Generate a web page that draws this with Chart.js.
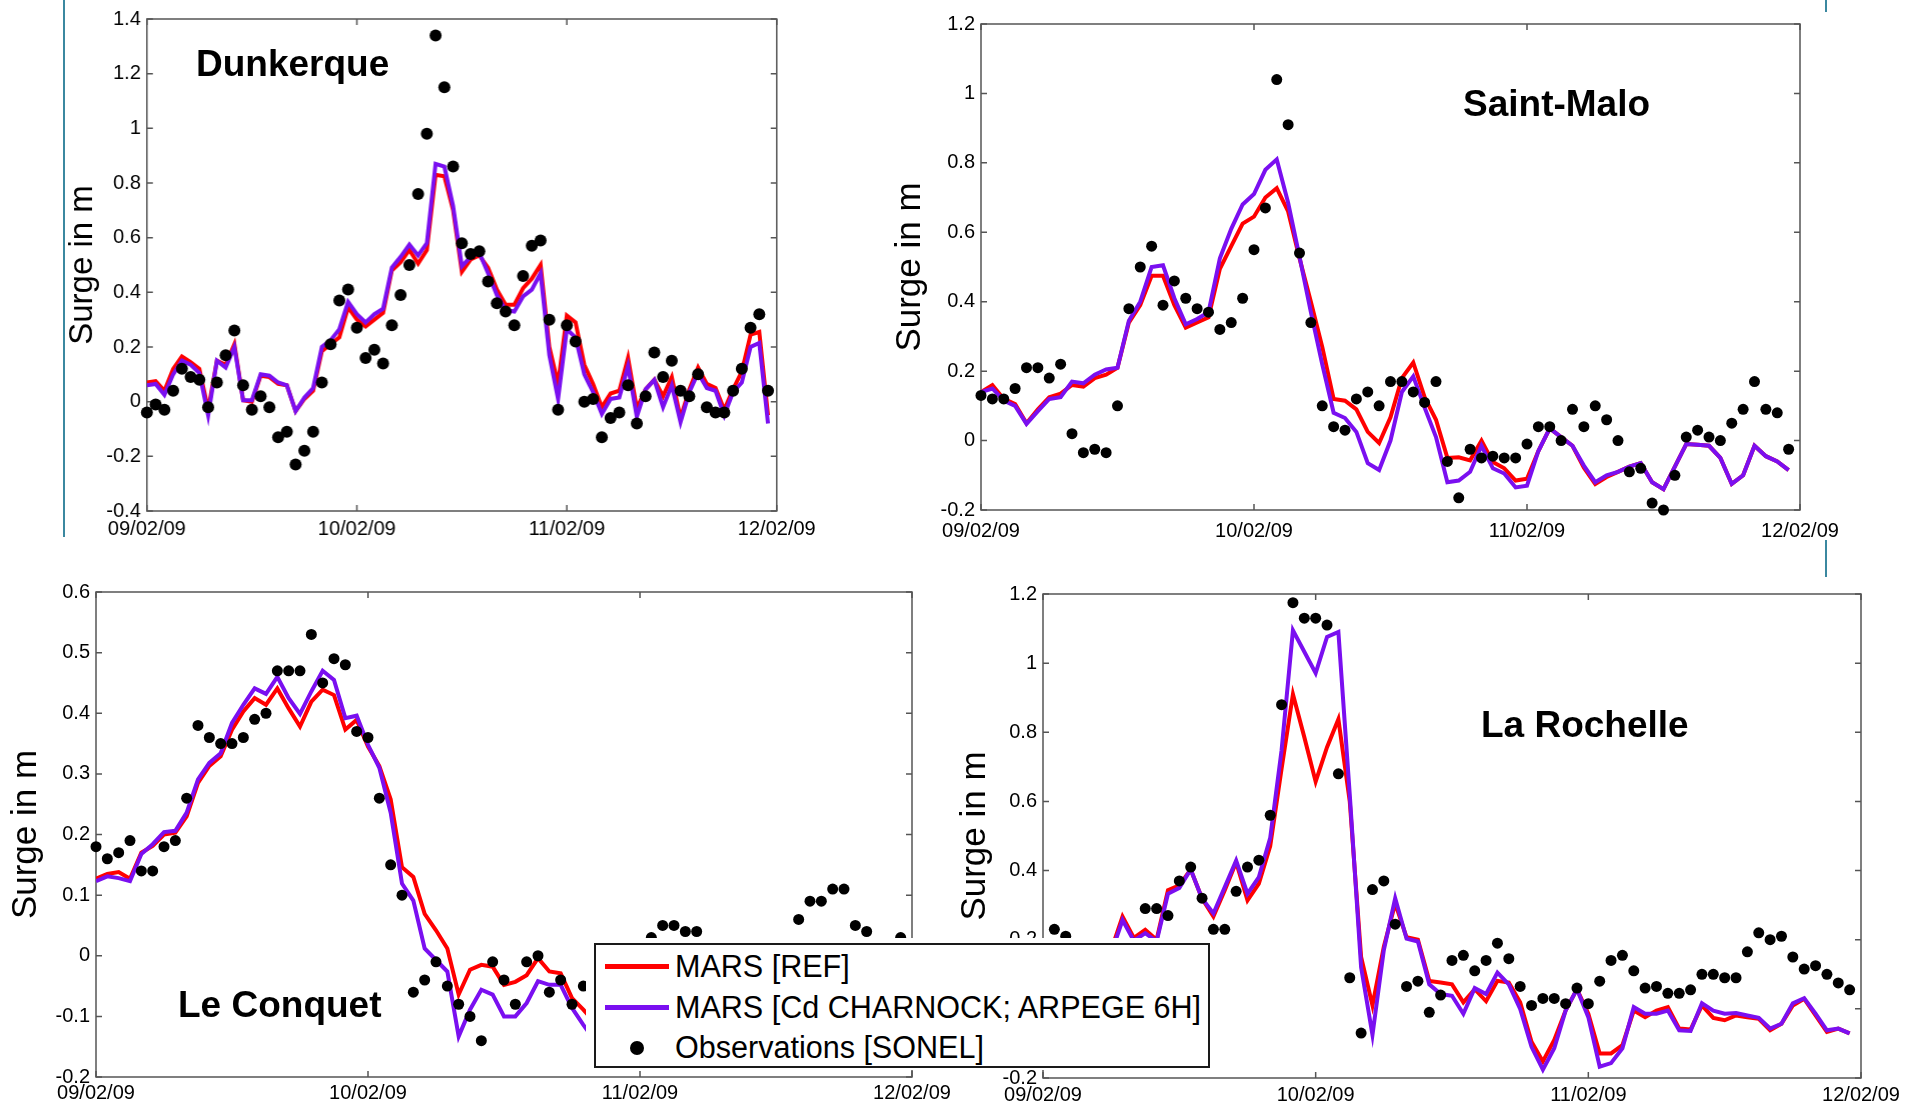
<!DOCTYPE html>
<html>
<head>
<meta charset="utf-8">
<script src="https://cdn.jsdelivr.net/npm/chart.js@4.4.1/dist/chart.umd.min.js"></script>
<style>
html,body{margin:0;padding:0;background:#fff;width:1925px;height:1106px;overflow:hidden;font-family:"Liberation Sans",Arial,sans-serif;}
.panel{position:absolute;}
.panel canvas{display:block;}
.ttl{position:absolute;font-weight:bold;font-size:37px;line-height:1.149;color:#000;white-space:nowrap;z-index:3;}
.deco{position:absolute;background:#3b88a0;width:2px;}
#legwhite{position:absolute;left:586px;top:938px;width:626px;height:132px;background:#fff;z-index:5;}
#legbox{position:absolute;left:8px;top:5px;width:612px;height:121px;border:2px solid #1a1a1a;}
.lrow{position:absolute;left:0;height:40px;width:612px;}
.lline{position:absolute;left:9px;top:17px;width:64px;height:5px;}
.ldot{position:absolute;left:34px;top:13px;width:14px;height:14px;border-radius:50%;background:#000;}
.ltxt{position:absolute;left:79px;top:0;line-height:40px;font-size:31px;color:#000;white-space:nowrap;transform:scaleX(0.985);transform-origin:0 50%;}
</style>
</head>
<body>
<div class="deco" style="left:63px;top:0;height:537px;"></div>
<div class="deco" style="left:1825px;top:0;height:12px;"></div>
<div class="deco" style="left:1825px;top:540px;height:37px;"></div>

<div class="ttl" style="left:196px;top:43px;">Dunkerque</div>
<div class="ttl" style="left:1463px;top:83px;">Saint-Malo</div>
<div class="ttl" style="left:178px;top:984px;">Le Conquet</div>
<div class="ttl" style="left:1481px;top:704px;">La Rochelle</div>

<script>
// ---------- data (hourly values from 09/02/09 00h) ----------
const dateLabels = ['09/02/09', '10/02/09', '11/02/09', '12/02/09'];
const yTitle = 'Surge in m';
const seriesNames = ['MARS [REF]', 'MARS [Cd CHARNOCK; ARPEGE 6H]', 'Observations [SONEL]'];

const dunkerqueObs = [-0.04,-0.01,-0.03,0.04,0.12,0.09,0.08,-0.02,0.07,0.17,
  0.26,0.06,-0.03,0.02,-0.02,-0.13,-0.11,-0.23,-0.18,-0.11,
  0.07,0.21,0.37,0.41,0.27,0.16,0.19,0.14,0.28,0.39,
  0.50,0.76,0.98,1.34,1.15,0.86,0.58,0.54,0.55,0.44,
  0.36,0.33,0.28,0.46,0.57,0.59,0.30,-0.03,0.28,0.22,
  0.00,0.01,-0.13,-0.06,-0.04,0.06,-0.08,0.02,0.18,0.09,
  0.15,0.04,0.02,0.10,-0.02,-0.04,-0.04,0.04,0.12,0.27,
  0.32,0.04];
const dunkerqueRef = [0.07,0.075,0.04,0.12,0.165,0.145,0.12,-0.03,0.15,0.135,
  0.21,0.005,0.00,0.095,0.09,0.065,0.06,-0.035,0.01,0.04,
  0.185,0.21,0.235,0.345,0.30,0.275,0.30,0.325,0.48,0.51,
  0.555,0.505,0.555,0.83,0.825,0.70,0.475,0.52,0.535,0.49,
  0.41,0.355,0.355,0.415,0.45,0.50,0.20,0.065,0.315,0.29,
  0.135,0.065,-0.02,0.03,0.04,0.16,-0.025,0.045,0.08,0.02,
  0.09,-0.06,0.045,0.125,0.065,0.05,-0.03,0.045,0.11,0.245,
  0.255,-0.05];
const dunkerqueCharnock = [0.06,0.065,0.025,0.10,0.15,0.135,0.105,-0.05,0.15,0.125,
  0.20,0.005,0.005,0.10,0.095,0.07,0.06,-0.035,0.015,0.05,
  0.20,0.225,0.265,0.365,0.32,0.29,0.32,0.34,0.49,0.53,
  0.575,0.535,0.58,0.87,0.86,0.715,0.495,0.53,0.545,0.47,
  0.39,0.335,0.33,0.385,0.41,0.47,0.17,0.01,0.265,0.235,
  0.10,0.035,-0.045,0.01,0.015,0.13,-0.055,0.045,0.08,-0.02,
  0.06,-0.075,0.035,0.105,0.05,0.04,-0.05,0.035,0.07,0.20,
  0.215,-0.08];

const saintMaloObs = [0.13,0.12,0.12,0.15,0.21,0.21,0.18,0.22,0.02,-0.035,
  -0.025,-0.035,0.10,0.38,0.50,0.56,0.39,0.46,0.41,0.38,
  0.37,0.32,0.34,0.41,0.55,0.67,1.04,0.91,0.54,0.34,
  0.10,0.04,0.03,0.12,0.14,0.10,0.17,0.17,0.14,0.11,
  0.17,-0.06,-0.165,-0.025,-0.05,-0.045,-0.05,-0.05,-0.01,0.04,
  0.04,0.00,0.09,0.04,0.10,0.06,0.00,-0.09,-0.08,-0.18,
  -0.20,-0.10,0.01,0.03,0.01,0.00,0.05,0.09,0.17,0.09,
  0.08,-0.025];
const saintMaloRef = [0.14,0.16,0.12,0.105,0.05,0.09,0.125,0.135,0.16,0.155,
  0.18,0.19,0.21,0.34,0.39,0.475,0.475,0.39,0.325,0.34,
  0.355,0.495,0.56,0.625,0.645,0.70,0.727,0.66,0.525,0.40,
  0.27,0.12,0.115,0.09,0.025,-0.007,0.067,0.18,0.225,0.125,
  0.06,-0.05,-0.048,-0.057,0.0,-0.062,-0.08,-0.115,-0.11,-0.03,
  0.035,0.01,-0.015,-0.078,-0.125,-0.105,-0.09,-0.075,-0.065,-0.12,
  -0.14,-0.075,-0.01,-0.012,-0.015,-0.05,-0.125,-0.10,-0.015,-0.045,
  -0.06,-0.085];
const saintMaloCharnock = [0.14,0.15,0.115,0.10,0.048,0.085,0.12,0.125,0.17,0.165,
  0.19,0.205,0.21,0.345,0.40,0.50,0.505,0.41,0.335,0.35,
  0.37,0.525,0.61,0.68,0.71,0.78,0.81,0.685,0.53,0.37,
  0.22,0.08,0.065,0.025,-0.065,-0.085,0.0,0.14,0.185,0.095,
  0.01,-0.12,-0.115,-0.09,-0.015,-0.08,-0.095,-0.135,-0.13,-0.03,
  0.035,0.01,-0.015,-0.072,-0.12,-0.10,-0.09,-0.075,-0.065,-0.12,
  -0.14,-0.075,-0.01,-0.012,-0.015,-0.05,-0.125,-0.10,-0.015,-0.045,
  -0.06,-0.085];

const leConquetObs = [0.18,0.16,0.17,0.19,0.14,0.14,0.18,0.19,0.26,0.38,
  0.36,0.35,0.35,0.36,0.39,0.40,0.47,0.47,0.47,0.53,
  0.45,0.49,0.48,0.37,0.36,0.26,0.15,0.10,-0.06,-0.04,
  -0.01,-0.05,-0.08,-0.10,-0.14,-0.01,-0.04,-0.08,-0.01,0.00,
  -0.06,-0.04,-0.08,-0.05,null,null,null,null,null,0.03,
  0.05,0.05,0.04,0.04,null,null,null,null,null,null,
  null,0.02,0.06,0.09,0.09,0.11,0.11,0.05,0.04,0.02,
  null,0.03];
const leConquetRef = [0.127,0.135,0.138,0.127,0.17,0.181,0.20,0.203,0.23,0.285,
  0.313,0.329,0.373,0.403,0.425,0.414,0.441,0.408,0.378,0.419,
  0.439,0.43,0.373,0.389,0.345,0.313,0.258,0.146,0.13,0.069,
  0.042,0.012,-0.064,-0.023,-0.015,-0.018,-0.048,-0.043,-0.032,-0.004,
  -0.026,-0.029,-0.07,-0.089,-0.11];
const leConquetCharnock = [0.123,0.131,0.128,0.123,0.168,0.184,0.204,0.206,0.236,0.291,
  0.318,0.334,0.384,0.414,0.441,0.432,0.46,0.425,0.399,0.436,
  0.47,0.455,0.392,0.396,0.348,0.31,0.236,0.119,0.091,0.012,
  -0.007,-0.026,-0.133,-0.089,-0.056,-0.064,-0.10,-0.10,-0.078,-0.042,
  -0.048,-0.048,-0.086,-0.114,-0.14];

const laRochelleObs = [null,0.23,0.21,null,null,null,null,null,0.19,0.29,
  0.29,0.27,0.37,0.41,0.32,0.23,0.23,0.34,0.41,0.43,
  0.56,0.88,1.175,1.13,1.13,1.11,0.68,0.09,-0.07,0.345,
  0.37,0.245,0.065,0.08,-0.01,0.04,0.14,0.155,0.11,0.14,
  0.19,0.145,0.065,0.01,0.03,0.03,0.015,0.06,0.015,0.08,
  0.14,0.155,0.11,0.06,0.065,0.045,0.045,0.055,0.10,0.10,
  0.09,0.09,0.165,0.22,0.20,0.21,0.15,0.115,0.125,0.10,
  0.075,0.055];
const laRochelleRef = [null,null,null,null,null,null,0.17,0.267,0.205,0.229,
  0.20,0.343,0.357,0.403,0.319,0.267,0.343,0.424,0.314,0.362,
  0.471,0.695,0.91,0.786,0.657,0.757,0.838,0.60,0.15,0.01,
  0.18,0.305,0.207,0.20,0.081,0.076,0.071,0.019,0.057,0.022,
  0.081,0.076,0.019,-0.095,-0.152,-0.09,-0.005,0.057,-0.014,-0.129,
  -0.129,-0.105,-0.005,-0.024,-0.005,0.005,-0.057,-0.06,0.01,-0.026,
  -0.033,-0.019,-0.024,-0.029,-0.062,-0.043,0.01,0.029,-0.019,-0.067,
  -0.057,-0.071];
const laRochelleCharnock = [null,null,null,null,null,null,0.16,0.257,0.197,0.219,
  0.195,0.333,0.35,0.403,0.319,0.276,0.352,0.429,0.333,0.381,
  0.495,0.748,1.095,1.033,0.971,1.076,1.09,0.62,0.12,-0.075,
  0.17,0.32,0.203,0.195,0.071,0.043,0.038,-0.014,0.06,0.043,
  0.105,0.071,0.0,-0.11,-0.176,-0.114,-0.005,0.057,-0.024,-0.167,
  -0.157,-0.114,0.005,-0.014,-0.014,-0.005,-0.062,-0.064,0.016,-0.005,
  -0.014,-0.012,-0.019,-0.026,-0.057,-0.043,0.016,0.031,-0.014,-0.062,
  -0.057,-0.071];

// ---------- styles ----------
const FONT = '"Liberation Sans", Arial, sans-serif';
const RED = '#ff0000';
const PURPLE = '#7a0ff0';
const AXIS = '#555555';

const matlabBox = {
  id: 'matlabBox',
  beforeDatasetsDraw(chart) {
    const {ctx, chartArea: a, scales: {x, y}} = chart;
    const tl = 6;
    ctx.save();
    ctx.strokeStyle = AXIS;
    ctx.lineWidth = 1.5;
    ctx.strokeRect(a.left, a.top, a.right - a.left, a.bottom - a.top);
    ctx.beginPath();
    x.ticks.forEach(t => {
      const px = x.getPixelForValue(t.value);
      ctx.moveTo(px, a.bottom); ctx.lineTo(px, a.bottom - tl);
      ctx.moveTo(px, a.top); ctx.lineTo(px, a.top + tl);
    });
    y.ticks.forEach(t => {
      const py = y.getPixelForValue(t.value);
      ctx.moveTo(a.left, py); ctx.lineTo(a.left + tl, py);
      ctx.moveTo(a.right, py); ctx.lineTo(a.right - tl, py);
    });
    ctx.stroke();
    ctx.restore();
  }
};

function toPoints(arr) { return arr.map((v, i) => ({x: i, y: v})); }
function fmt(v) { const r = Math.round(v * 10) / 10; return r === 0 ? '0' : String(r); }

function makePanel(p) {
  const pt = 14, pr = 50, H = 40;
  const CL = p.ylabX - p.yfs * 1.2 / 2;
  const W = p.L - CL;
  const div = document.createElement('div');
  div.className = 'panel';
  div.style.left = CL + 'px';
  div.style.top = (p.T - pt) + 'px';
  div.style.width = (W + (p.R - p.L) + pr) + 'px';
  div.style.height = (pt + (p.B - p.T) + H) + 'px';
  const cv = document.createElement('canvas');
  div.appendChild(cv);
  document.body.insertBefore(div, document.getElementById('legwhite'));
  new Chart(cv, {
    type: 'line',
    data: {
      datasets: [
        {label: seriesNames[2], data: toPoints(p.obs), showLine: false, pointRadius: p.dot,
         pointBackgroundColor: '#000', pointBorderWidth: 0, borderColor: '#000', order: 0, clip: false},
        {label: seriesNames[1], data: toPoints(p.chn), borderColor: PURPLE, borderWidth: 4,
         pointRadius: 0, tension: 0, order: 1, fill: false},
        {label: seriesNames[0], data: toPoints(p.ref), borderColor: RED, borderWidth: 4,
         pointRadius: 0, tension: 0, order: 2, fill: false}
      ]
    },
    options: {
      responsive: true, maintainAspectRatio: false, animation: false,
      events: [],
      layout: {padding: {left: 0, top: pt, right: pr, bottom: 0}, autoPadding: false},
      plugins: {legend: {display: false}, tooltip: {enabled: false}},
      scales: {
        x: {
          type: 'linear', min: 0, max: 72,
          afterFit: s => { s.height = H; },
          grid: {display: false, drawTicks: false}, border: {display: false},
          ticks: {stepSize: 24, autoSkip: false, maxRotation: 0, padding: p.xpad,
                  callback: v => dateLabels[v / 24], color: '#000', font: {family: FONT, size: 20}}
        },
        y: {
          type: 'linear', min: p.ymin, max: p.ymax,
          afterFit: s => { s.width = W; },
          grid: {display: false, drawTicks: false}, border: {display: false},
          ticks: {stepSize: p.ystep, autoSkip: false, padding: 6, callback: v => fmt(v),
                  color: '#000', font: {family: FONT, size: 20}},
          title: {display: true, text: yTitle, color: '#000', padding: 0,
                  font: {family: FONT, size: p.yfs}}
        }
      }
    },
    plugins: [matlabBox]
  });
}

window.addEventListener('DOMContentLoaded', () => {
  const panels = [
    {L: 147, T: 15, R: 776, B: 511, ymin: -0.4, ymax: 1.4, ystep: 0.2, ylabX: 83, yfs: 33, xpad: 6, dot: 6,
     obs: dunkerqueObs, ref: dunkerqueRef, chn: dunkerqueCharnock},
    {L: 981, T: 20, R: 1800, B: 510, ymin: -0.2, ymax: 1.2, ystep: 0.2, ylabX: 910, yfs: 35, xpad: 9, dot: 5.5,
     obs: saintMaloObs, ref: saintMaloRef, chn: saintMaloCharnock},
    {L: 96, T: 588, R: 912, B: 1077, ymin: -0.2, ymax: 0.6, ystep: 0.1, ylabX: 26, yfs: 35, xpad: 4, dot: 5.5,
     obs: leConquetObs, ref: leConquetRef, chn: leConquetCharnock},
    {L: 1043, T: 590, R: 1861, B: 1078, ymin: -0.2, ymax: 1.2, ystep: 0.2, ylabX: 975, yfs: 35, xpad: 5, dot: 5.5,
     obs: laRochelleObs, ref: laRochelleRef, chn: laRochelleCharnock}
  ];
  panels.forEach(makePanel);
  document.getElementById('lt0').textContent = seriesNames[0];
  document.getElementById('lt1').textContent = seriesNames[1];
  document.getElementById('lt2').textContent = seriesNames[2];
});
</script>

<div id="legwhite">
  <div id="legbox">
    <div class="lrow" style="top:2px;"><div class="lline" style="background:#ff0000;"></div><div class="ltxt" id="lt0">MARS [REF]</div></div>
    <div class="lrow" style="top:43px;"><div class="lline" style="background:#7a0ff0;"></div><div class="ltxt" id="lt1">MARS [Cd CHARNOCK; ARPEGE 6H]</div></div>
    <div class="lrow" style="top:83px;"><div class="ldot"></div><div class="ltxt" id="lt2">Observations [SONEL]</div></div>
  </div>
</div>
</body>
</html>
